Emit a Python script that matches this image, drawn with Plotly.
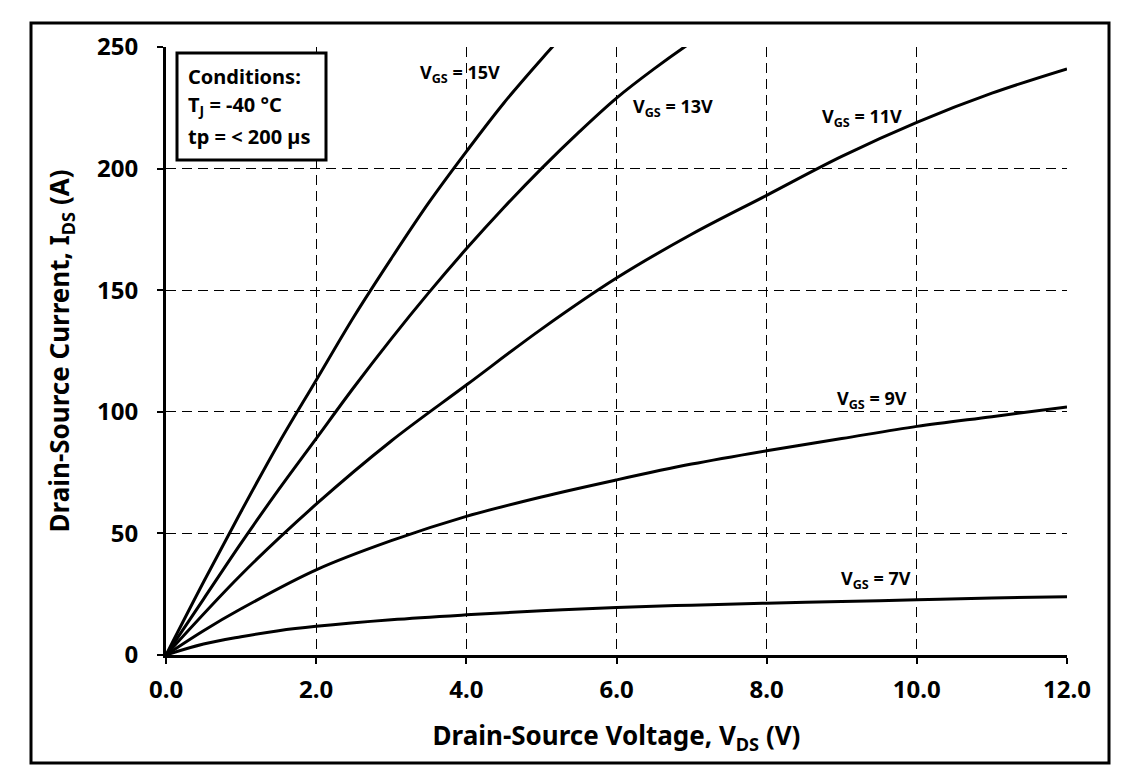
import plotly.graph_objects as go

# ---- data ----
vds_15 = [0, 0.5, 1, 1.5, 2, 2.5, 3, 3.5, 4, 4.5, 5, 5.5]
ids_15 = [0, 30, 59, 87, 113, 139, 163, 186, 207, 227, 245, 262]

vds_13 = [0, 0.5, 1, 1.5, 2, 2.5, 3, 3.5, 4, 4.5, 5, 5.5, 6, 6.5, 7, 7.5]
ids_13 = [0, 23, 46, 68, 89, 110, 130, 149, 167, 184, 200, 215, 229, 241, 252, 262]

vds_11 = [0, 1, 2, 3, 4, 5, 6, 7, 8, 9, 10, 11, 12]
ids_11 = [0, 33, 62, 88, 111, 134, 155, 173, 189, 205, 219, 231, 241]

vds_9 = [0, 0.5, 1, 2, 3, 4, 5, 6, 7, 8, 9, 10, 11, 12]
ids_9 = [0, 10, 19, 35, 47, 57, 65, 72, 78.5, 84, 89, 94, 98, 102]

vds_7 = [0, 0.5, 1, 1.5, 2, 3, 4, 5, 6, 7, 8, 9, 10, 11, 12]
ids_7 = [0, 4.5, 7.5, 10, 11.8, 14.5, 16.5, 18.2, 19.5, 20.5, 21.3, 22, 22.7, 23.4, 24]

x_ticks = [0, 2, 4, 6, 8, 10, 12]
x_tick_labels = ["0.0", "2.0", "4.0", "6.0", "8.0", "10.0", "12.0"]
y_ticks = [0, 50, 100, 150, 200, 250]

curve_labels = ["V<sub>GS</sub> = 15V", "V<sub>GS</sub> = 13V", "V<sub>GS</sub> = 11V",
                "V<sub>GS</sub> = 9V", "V<sub>GS</sub> = 7V"]
label_x = [3.92, 6.75, 9.27, 9.4, 9.45]
label_y = [239, 225, 221, 105, 31]

cond_lines = ["Conditions:", "T<sub>J</sub> = -40 °C", "tp = < 200 µs"]

FONT = "Noto Sans"

# page offset (browser body margin) -> work in figure pixel coordinates
OFF = 8
PX0, PX1 = 166 - OFF, 1067 - OFF   # plot area left/right (figure px)
PY0, PY1 = 47 - OFF, 655 - OFF     # plot area top/bottom (figure px)
W, H = 1106, 759
PW, PH = PX1 - PX0, PY1 - PY0


def px(xs):
    return (xs - OFF - PX0) / PW


def py(ys):
    return (PY1 - (ys - OFF)) / PH


fig = go.Figure()
series = [(vds_15, ids_15), (vds_13, ids_13), (vds_11, ids_11), (vds_9, ids_9), (vds_7, ids_7)]
for xs, ys in series:
    fig.add_trace(go.Scatter(x=xs, y=ys, mode="lines",
                             line=dict(color="black", width=3, shape="spline", smoothing=1.0),
                             showlegend=False, hoverinfo="skip"))

for t, lx, ly in zip(curve_labels, label_x, label_y):
    fig.add_annotation(x=lx, y=ly, text="<b>" + t + "</b>", showarrow=False,
                       font=dict(family=FONT, size=18, color="black"),
                       xanchor="center", yanchor="middle")

# conditions box
fig.add_shape(type="rect", xref="paper", yref="paper",
              x0=px(177), x1=px(326), y0=py(160), y1=py(53),
              line=dict(color="black", width=3), fillcolor="white", layer="above")
for i, t in enumerate(cond_lines):
    yp = 76 + 30 * i
    fig.add_annotation(xref="paper", yref="paper", x=px(186), y=py(yp),
                       text="<b>" + t + "</b>", showarrow=False, xanchor="left", yanchor="middle",
                       font=dict(family=FONT, size=20, color="black"))

# outer frame
fig.add_shape(type="rect", xref="paper", yref="paper",
              x0=px(31), x1=px(1109), y0=py(763), y1=py(23),
              line=dict(color="black", width=3))

grid = dict(showgrid=True, gridcolor="black", gridwidth=1.4, griddash="10px,6px")
tickfont = dict(family=FONT, size=24, color="black", weight="bold")
titlefont = dict(family=FONT, size=26, color="black")

fig.update_xaxes(range=[0, 12], tickvals=x_ticks, ticktext=x_tick_labels,
                 showline=True, linecolor="black", linewidth=3, zeroline=False,
                 ticks="outside", ticklen=6, tickwidth=2, tickcolor="black",
                 tickfont=tickfont, ticklabelstandoff=5,
                 title=dict(text="<b>Drain-Source Voltage, V<sub>DS</sub> (V)</b>",
                            font=titlefont, standoff=24),
                 **grid)
fig.update_yaxes(range=[0, 250], tickvals=y_ticks,
                 showline=True, linecolor="black", linewidth=3, zeroline=False,
                 ticks="outside", ticklen=6, tickwidth=2, tickcolor="black",
                 tickfont=tickfont, ticklabelstandoff=14,
                 title=dict(text="<b>Drain-Source Current, I<sub>DS</sub> (A)</b>",
                            font=titlefont, standoff=20),
                 **grid)

fig.update_layout(width=W, height=H, plot_bgcolor="white", paper_bgcolor="white",
                  margin=dict(l=PX0, r=W - PX1, t=PY0, b=H - PY1),
                  font=dict(family=FONT, color="black"))

fig.write_html("out.html")
